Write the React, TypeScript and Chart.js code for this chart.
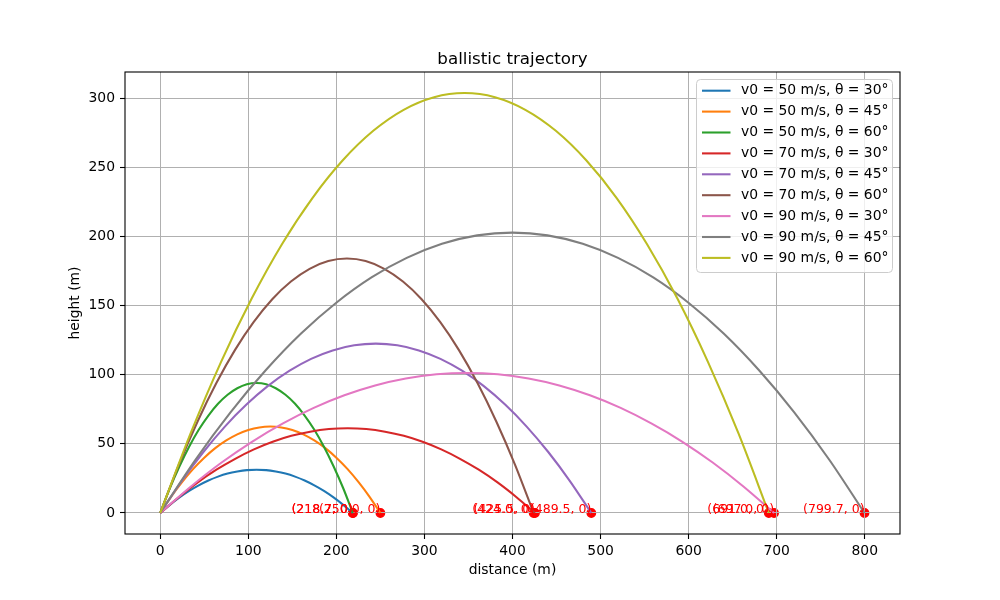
import React, { useEffect, useRef } from "react";
import { Chart, registerables } from "chart.js";

Chart.register(...registerables);

// ---- data ----
const speeds = [50, 50, 50, 70, 70, 70, 90, 90, 90];
const angles = [30, 45, 60, 30, 45, 60, 30, 45, 60];
const colors = ["#1f77b4", "#ff7f0e", "#2ca02c", "#d62728", "#9467bd", "#8c564b", "#e377c2", "#7f7f7f", "#bcbd22"];

const x_50_30 = [0, 10.9, 21.9, 32.8, 43.7, 54.7, 65.6, 76.5, 87.5, 98.4, 109.4, 120.3, 131.2, 142.2, 153.1, 164.0, 175.0, 185.9, 196.8, 207.8, 218.7];
const y_50_30 = [0, 5.9, 11.3, 16.0, 20.0, 23.5, 26.3, 28.5, 30.0, 31.0, 31.3, 31.0, 30.0, 28.5, 26.3, 23.5, 20.0, 16.0, 11.3, 5.9, 0];

const x_50_45 = [0, 12.5, 25, 37.5, 50, 62.5, 75, 87.5, 100, 112.5, 125, 137.5, 150, 162.5, 175, 187.5, 200, 212.5, 225, 237.5, 250];
const y_50_45 = [0, 11.9, 22.5, 31.9, 40.0, 46.9, 52.5, 56.9, 60.0, 61.9, 62.5, 61.9, 60.0, 56.9, 52.5, 46.9, 40.0, 31.9, 22.5, 11.9, 0];

const x_50_60 = [0, 10.9, 21.9, 32.8, 43.7, 54.7, 65.6, 76.5, 87.5, 98.4, 109.4, 120.3, 131.2, 142.2, 153.1, 164.0, 175.0, 185.9, 196.8, 207.8, 218.7];
const y_50_60 = [0, 17.9, 33.8, 47.9, 60.2, 70.5, 79.0, 85.5, 90.2, 93.1, 94.0, 93.1, 90.2, 85.5, 79.0, 70.5, 60.2, 47.9, 33.8, 17.9, 0];

const x_70_30 = [0, 21.3, 42.6, 63.8, 85.1, 106.4, 127.7, 148.9, 170.2, 191.5, 212.8, 234.0, 255.3, 276.6, 297.9, 319.1, 340.4, 361.7, 383.0, 404.2, 425.5];
const y_70_30 = [0, 11.6, 22.1, 31.3, 39.2, 46.0, 51.5, 55.8, 58.8, 60.7, 61.3, 60.7, 58.8, 55.8, 51.5, 46.0, 39.2, 31.3, 22.1, 11.6, 0];

const x_70_45 = [0, 24.5, 49.0, 73.4, 97.9, 122.4, 146.9, 171.3, 195.8, 220.3, 244.8, 269.2, 293.7, 318.2, 342.7, 367.1, 391.6, 416.1, 440.6, 465.0, 489.5];
const y_70_45 = [0, 23.3, 44.1, 62.5, 78.4, 91.9, 102.9, 111.5, 117.6, 121.3, 122.5, 121.3, 117.6, 111.5, 102.9, 91.9, 78.4, 62.5, 44.1, 23.3, 0];

const x_70_60 = [0, 21.2, 42.4, 63.6, 84.8, 106, 127.2, 148.4, 169.6, 190.8, 212, 233.2, 254.4, 275.6, 296.8, 318, 339.2, 360.4, 381.6, 402.8, 424];
const y_70_60 = [0, 35.0, 66.2, 93.8, 117.8, 138.0, 154.6, 167.4, 176.6, 182.2, 184.0, 182.2, 176.6, 167.4, 154.6, 138.0, 117.8, 93.8, 66.2, 35.0, 0];

const x_90_30 = [0, 34.9, 69.7, 104.6, 139.4, 174.3, 209.1, 244.0, 278.8, 313.7, 348.5, 383.4, 418.2, 453.1, 487.9, 522.8, 557.6, 592.5, 627.3, 662.2, 697];
const y_90_30 = [0, 19.2, 36.5, 51.7, 64.8, 76.0, 85.1, 92.2, 97.2, 100.3, 101.3, 100.3, 97.2, 92.2, 85.1, 76.0, 64.8, 51.7, 36.5, 19.2, 0];

const x_90_45 = [0, 40.0, 80.0, 120.0, 159.9, 199.9, 239.9, 279.9, 319.9, 359.9, 399.9, 439.8, 479.8, 519.8, 559.8, 599.8, 639.8, 679.7, 719.7, 759.7, 799.7];
const y_90_45 = [0, 38.5, 73.0, 103.4, 129.8, 152.1, 170.4, 184.5, 194.7, 200.8, 202.8, 200.8, 194.7, 184.5, 170.4, 152.1, 129.8, 103.4, 73.0, 38.5, 0];

const x_90_60 = [0, 34.6, 69.1, 103.7, 138.2, 172.8, 207.3, 241.9, 276.4, 311.0, 345.5, 380.1, 414.6, 449.2, 483.7, 518.3, 552.8, 587.4, 621.9, 656.5, 691];
const y_90_60 = [0, 57.7, 109.3, 154.9, 194.4, 227.8, 255.1, 276.4, 291.6, 300.7, 303.7, 300.7, 291.6, 276.4, 255.1, 227.8, 194.4, 154.9, 109.3, 57.7, 0];

const landingX = [218.7, 250.0, 218.7, 425.5, 489.5, 424.0, 697.0, 799.7, 691.0];

const xTicks = [0, 100, 200, 300, 400, 500, 600, 700, 800];
const yTicks = [0, 50, 100, 150, 200, 250, 300];

const titleText = "ballistic trajectory";
const xLabelText = "distance (m)";
const yLabelText = "height (m)";

const FONT = "'DejaVu Sans', 'Liberation Sans', sans-serif";

export default function App() {
  const canvasRef = useRef<HTMLCanvasElement | null>(null);

  useEffect(() => {
    const canvas = canvasRef.current;
    if (!canvas) return;

    const trajectories: number[][][] = [
      [x_50_30, y_50_30], [x_50_45, y_50_45], [x_50_60, y_50_60],
      [x_70_30, y_70_30], [x_70_45, y_70_45], [x_70_60, y_70_60],
      [x_90_30, y_90_30], [x_90_45, y_90_45], [x_90_60, y_90_60],
    ];
    const labels = speeds.map((v, i) => `v0 = ${v} m/s, θ = ${angles[i]}°`);
    const SCATTER_INDEX = trajectories.length;

    const lineSets: any[] = trajectories.map(([xs, ys], i) => ({
      type: "line",
      label: labels[i],
      data: xs.map((x, j) => ({ x, y: ys[j] })),
      borderColor: colors[i],
      backgroundColor: colors[i],
      borderWidth: 2.08,
      pointRadius: 0,
      fill: false,
      cubicInterpolationMode: "monotone",
      order: 9 - i,
    }));

    const scatterSet: any = {
      type: "scatter",
      label: "landing",
      data: landingX.map((x) => ({ x, y: 0 })),
      backgroundColor: "#ff0000",
      borderColor: "#ff0000",
      borderWidth: 1.4,
      pointRadius: 4.2,
      showLine: false,
      order: 20,
    };

    const mplPlugin: any = {
      id: "mpl",
      beforeDraw(chart: any) {
        // markers below grid (matplotlib zorder)
        const ctx = chart.ctx;
        const meta = chart.getDatasetMeta(SCATTER_INDEX);
        ctx.save();
        meta.data.forEach((el: any) => el.draw(ctx, chart.chartArea));
        ctx.restore();
      },
      beforeDatasetDraw(chart: any, args: any) {
        if (args.index === SCATTER_INDEX) return false;
      },
      afterDatasetsDraw(chart: any) {
        const ctx = chart.ctx;
        const a = chart.chartArea;
        const xs = chart.scales.x;
        const ys = chart.scales.y;
        ctx.save();
        // spines
        ctx.strokeStyle = "#000";
        ctx.lineWidth = 1.1;
        ctx.strokeRect(a.left, a.top, a.right - a.left, a.bottom - a.top);
        // landing labels
        ctx.fillStyle = "#ff0000";
        ctx.font = `12.5px ${FONT}`;
        ctx.textAlign = "right";
        ctx.textBaseline = "alphabetic";
        landingX.forEach((x) => {
          ctx.fillText(`(${x.toFixed(1)}, 0)`, xs.getPixelForValue(x), ys.getPixelForValue(0));
        });
        ctx.restore();
      },
      afterDraw(chart: any) {
        const ctx = chart.ctx;
        const a = chart.chartArea;
        ctx.save();
        // title
        ctx.fillStyle = "#000";
        ctx.font = `16.7px ${FONT}`;
        ctx.textAlign = "center";
        ctx.textBaseline = "alphabetic";
        ctx.fillText(titleText, (a.left + a.right) / 2, 64);
        // axis labels
        ctx.font = `13.9px ${FONT}`;
        ctx.textBaseline = "middle";
        ctx.fillText(xLabelText, (a.left + a.right) / 2, 570);
        ctx.save();
        ctx.translate(75, (a.top + a.bottom) / 2);
        ctx.rotate(-Math.PI / 2);
        ctx.fillText(yLabelText, 0, 0);
        ctx.restore();
        // legend
        const lx = 696.5, ly = 79.5, lw = 196, lh = 193, r = 4;
        ctx.beginPath();
        ctx.moveTo(lx + r, ly);
        ctx.lineTo(lx + lw - r, ly);
        ctx.quadraticCurveTo(lx + lw, ly, lx + lw, ly + r);
        ctx.lineTo(lx + lw, ly + lh - r);
        ctx.quadraticCurveTo(lx + lw, ly + lh, lx + lw - r, ly + lh);
        ctx.lineTo(lx + r, ly + lh);
        ctx.quadraticCurveTo(lx, ly + lh, lx, ly + lh - r);
        ctx.lineTo(lx, ly + r);
        ctx.quadraticCurveTo(lx, ly, lx + r, ly);
        ctx.closePath();
        ctx.fillStyle = "rgba(255,255,255,0.8)";
        ctx.fill();
        ctx.strokeStyle = "#cccccc";
        ctx.lineWidth = 1;
        ctx.stroke();
        ctx.textAlign = "left";
        ctx.textBaseline = "middle";
        ctx.font = `13.9px ${FONT}`;
        for (let i = 0; i < trajectories.length; i++) {
          const y = 90.7 + i * 20.9;
          ctx.strokeStyle = colors[i];
          ctx.lineWidth = 2.08;
          ctx.beginPath();
          ctx.moveTo(702, y);
          ctx.lineTo(730.5, y);
          ctx.stroke();
          ctx.fillStyle = "#000";
          ctx.fillText(labels[i], 741, y);
        }
        ctx.restore();
      },
    };

    const chart = new Chart(canvas, {
      type: "line",
      data: { datasets: [...lineSets, scatterSet] },
      options: {
        animation: false,
        responsive: false,
        devicePixelRatio: 1,
        layout: { padding: { top: 72, right: 100, left: 0, bottom: 0 } },
        plugins: {
          legend: { display: false },
          title: { display: false },
          tooltip: { enabled: false },
        },
        scales: {
          x: {
            type: "linear",
            min: -40,
            max: 840,
            afterBuildTicks: (s: any) => {
              s.ticks = xTicks.map((v) => ({ value: v }));
            },
            afterFit: (s: any) => {
              s.height = 66;
            },
            border: { display: false },
            grid: { color: "#b0b0b0", lineWidth: 1, tickColor: "#000", tickLength: 5, tickWidth: 1.1, drawTicks: true },
            ticks: {
              color: "#000",
              font: { family: FONT, size: 13.9 },
              padding: 4,
              maxRotation: 0,
              autoSkip: false,
              callback: (v: any) => String(v),
            },
          },
          y: {
            type: "linear",
            min: -15.19,
            max: 318.94,
            afterBuildTicks: (s: any) => {
              s.ticks = yTicks.map((v) => ({ value: v }));
            },
            afterFit: (s: any) => {
              s.width = 125;
            },
            border: { display: false },
            grid: { color: "#b0b0b0", lineWidth: 1, tickColor: "#000", tickLength: 5, tickWidth: 1.1, drawTicks: true },
            ticks: {
              color: "#000",
              font: { family: FONT, size: 13.9 },
              padding: 5,
              autoSkip: false,
              callback: (v: any) => String(v),
            },
          },
        },
      } as any,
      plugins: [mplPlugin],
    });

    return () => chart.destroy();
  }, []);

  return (
    <div style={{ position: "absolute", left: 0, top: 0, width: 1000, height: 600, background: "#fff" }}>
      <canvas ref={canvasRef} width={1000} height={600} style={{ display: "block", width: 1000, height: 600 }} />
    </div>
  );
}
